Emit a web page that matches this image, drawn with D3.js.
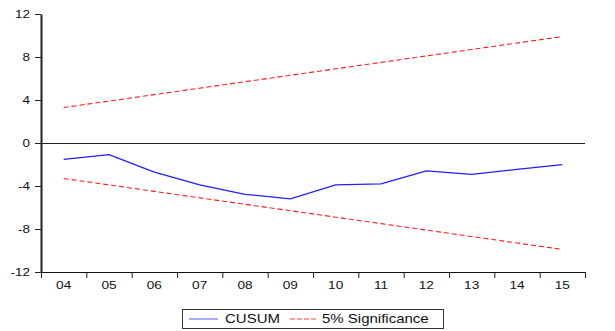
<!DOCTYPE html>
<html>
<head>
<meta charset="utf-8">
<script src="https://cdn.jsdelivr.net/npm/d3@7"></script>
<style>
  html, body { margin: 0; padding: 0; background: #fff; }
  svg { display: block; font-family: Arial, "Liberation Sans", sans-serif; }
</style>
</head>
<body>
<svg id="chart" width="615" height="331"></svg>
<script>
// Recursive residual CUSUM test with 5% significance bounds
const years = ["04", "05", "06", "07", "08", "09", "10", "11", "12", "13", "14", "15"];
const cusum = [-1.52, -1.09, -2.70, -3.90, -4.77, -5.20, -3.90, -3.80, -2.60, -2.92, -2.45, -2.02];
const upperBound = [3.30, 3.90, 4.50, 5.10, 5.70, 6.30, 6.90, 7.50, 8.10, 8.70, 9.30, 9.90];
const lowerBound = [-3.30, -3.90, -4.50, -5.10, -5.70, -6.30, -6.90, -7.50, -8.10, -8.70, -9.30, -9.90];
const yTicks = [-12, -8, -4, 0, 4, 8, 12];
const legendLabels = ["CUSUM", "5% Significance"];

const svg = d3.select("#chart");
const plotL = 41, plotR = 585, plotT = 14, plotB = 272;

const x = d3.scaleBand().domain(years).range([plotL, plotR]).padding(0);
const xEdge = d3.scaleLinear().domain([0, years.length]).range([plotL, plotR]);
const y = d3.scaleLinear().domain([-12, 12]).range([plotB, plotT]);
const cx = d => x(d) + x.bandwidth() / 2;

// zero reference line
svg.append("line")
  .attr("x1", plotL).attr("x2", plotR)
  .attr("y1", y(0) + 0.5).attr("y2", y(0) + 0.5)
  .attr("stroke", "#222").attr("stroke-width", 1);

// y axis
const yAxis = svg.append("g")
  .attr("transform", `translate(${plotL},0)`)
  .call(d3.axisLeft(y).tickValues(yTicks).tickSize(6).tickSizeOuter(0));
yAxis.select(".domain").attr("stroke", "#222").attr("stroke-width", 2);
yAxis.selectAll(".tick line").attr("stroke", "#222");
yAxis.selectAll(".tick text")
  .attr("x", 0).attr("dy", "0.36em")
  .attr("font-size", 10).attr("fill", "#111")
  .attr("text-anchor", "end")
  .attr("transform", "translate(-11,0) scale(1.35,1)")
  .text(d => d < 0 ? "-" + Math.abs(d) : String(d));

// x axis: tick marks on period boundaries, labels centred in each period
const xTickAxis = svg.append("g")
  .attr("transform", `translate(0,${plotB})`)
  .call(d3.axisBottom(xEdge).ticks(years.length).tickSize(6).tickSizeOuter(0).tickFormat(""));
xTickAxis.select(".domain").attr("stroke", "#111").attr("stroke-width", 1.2);
xTickAxis.selectAll(".tick line").attr("stroke", "#222");

const xLabelAxis = svg.append("g")
  .attr("transform", `translate(0,${plotB})`)
  .call(d3.axisBottom(x).tickSize(0).tickPadding(10));
xLabelAxis.select(".domain").remove();
xLabelAxis.selectAll(".tick text")
  .attr("font-size", 10.5).attr("fill", "#111")
  .attr("transform", "scale(1.3,1)");

// series
const line = d3.line().x((d, i) => cx(years[i])).y(d => y(d));

svg.append("path").datum(upperBound)
  .attr("d", line).attr("fill", "none")
  .attr("stroke", "#ff1a1a").attr("stroke-width", 1.1)
  .attr("stroke-dasharray", "5,3");
svg.append("path").datum(lowerBound)
  .attr("d", line).attr("fill", "none")
  .attr("stroke", "#ff1a1a").attr("stroke-width", 1.1)
  .attr("stroke-dasharray", "5,3");
svg.append("path").datum(cusum)
  .attr("d", line).attr("fill", "none")
  .attr("stroke", "#1f1fff").attr("stroke-width", 1.3);

// legend
const lg = svg.append("g");
lg.append("rect")
  .attr("x", 182.5).attr("y", 309.5).attr("width", 261).attr("height", 19)
  .attr("fill", "#fff").attr("stroke", "#333").attr("stroke-width", 1);
lg.append("line")
  .attr("x1", 189).attr("x2", 218).attr("y1", 319).attr("y2", 319)
  .attr("stroke", "#7f7fff").attr("stroke-width", 1.3);
lg.append("text")
  .attr("x", 225).attr("y", 323.5)
  .attr("font-size", 12.5).attr("fill", "#111")
  .attr("transform", "translate(225,0) scale(1.2,1) translate(-225,0)")
  .text(legendLabels[0]);
lg.append("line")
  .attr("x1", 290).attr("x2", 317).attr("y1", 319).attr("y2", 319)
  .attr("stroke", "#ff8080").attr("stroke-width", 1.3)
  .attr("stroke-dasharray", "5,2");
lg.append("text")
  .attr("x", 322).attr("y", 323.5)
  .attr("font-size", 12.5).attr("fill", "#111")
  .attr("transform", "translate(322,0) scale(1.2,1) translate(-322,0)")
  .text(legendLabels[1]);
</script>
</body>
</html>
